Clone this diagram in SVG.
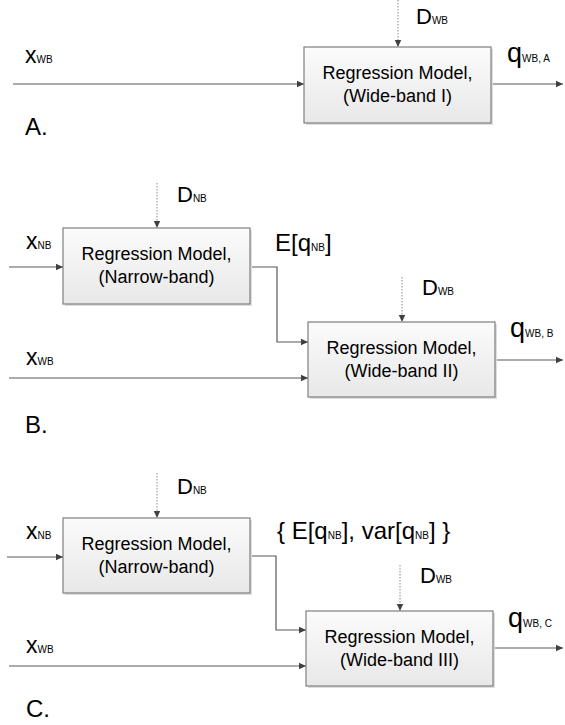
<svg xmlns="http://www.w3.org/2000/svg" width="565" height="725" viewBox="0 0 565 725">
<style>
text{font-family:"Liberation Sans",Arial,sans-serif;fill:#000}
.bt{font-size:18px;text-anchor:middle}
.lb{font-size:23px}
.sub{font-size:10px}
.big{font-size:24px}
.q{font-size:27px}
.d{font-size:22px}
.ln{fill:none;stroke:#595959;stroke-width:1.2}
.dot{fill:none;stroke:#8c8c8c;stroke-width:1;stroke-dasharray:1.5 1.5}
.box{fill:url(#g);stroke:#7f7f7f;stroke-width:1.2}
.sh{fill:#dedede}
</style>
<defs>
<linearGradient id="g" x1="0" y1="0" x2="0" y2="1">
<stop offset="0" stop-color="#fbfbfb"/>
<stop offset="1" stop-color="#e8e8e8"/>
</linearGradient>
<marker id="ar" markerUnits="userSpaceOnUse" markerWidth="8" markerHeight="8" refX="7" refY="4" orient="auto">
<path d="M0,0.8 L7,4 L0,7.2 Z" fill="#404040"/>
</marker>
</defs>

<g id="connectors">
<path class="ln" d="M13,84 H304" marker-end="url(#ar)"/>
<path class="ln" d="M491,84 H563" marker-end="url(#ar)"/>
<path class="dot" d="M398,0 V47" marker-end="url(#ar)"/>
<path class="ln" d="M9,267 H63" marker-end="url(#ar)"/>
<path class="dot" d="M157,183 V228" marker-end="url(#ar)"/>
<path class="ln" d="M250,267 H277 V342 H308" marker-end="url(#ar)"/>
<path class="ln" d="M9,378 H308" marker-end="url(#ar)"/>
<path class="dot" d="M402,277 V322" marker-end="url(#ar)"/>
<path class="ln" d="M495,360 H563" marker-end="url(#ar)"/>
<path class="ln" d="M7,557 H63" marker-end="url(#ar)"/>
<path class="dot" d="M157,473 V518" marker-end="url(#ar)"/>
<path class="ln" d="M250,556 H276 V630 H306" marker-end="url(#ar)"/>
<path class="ln" d="M9,666 H306" marker-end="url(#ar)"/>
<path class="dot" d="M400,565 V611" marker-end="url(#ar)"/>
<path class="ln" d="M493,648 H563" marker-end="url(#ar)"/>
</g>

<g id="boxA">
<rect class="sh" x="306" y="49" width="187" height="76"/>
<rect class="box" x="304" y="47" width="187" height="76"/>
<text class="bt" x="397.5" y="79">Regression Model,</text>
<text class="bt" x="397.5" y="102">(Wide-band I)</text>
</g>
<g id="boxB-NB">
<rect class="sh" x="65" y="230" width="187" height="76"/>
<rect class="box" x="63" y="228" width="187" height="76"/>
<text class="bt" x="156.5" y="260">Regression Model,</text>
<text class="bt" x="156.5" y="283">(Narrow-band)</text>
</g>
<g id="boxB-WB">
<rect class="sh" x="310" y="324" width="187" height="75"/>
<rect class="box" x="308" y="322" width="187" height="75"/>
<text class="bt" x="401.5" y="354">Regression Model,</text>
<text class="bt" x="401.5" y="377">(Wide-band II)</text>
</g>
<g id="boxC-NB">
<rect class="sh" x="65" y="520" width="187" height="75"/>
<rect class="box" x="63" y="518" width="187" height="75"/>
<text class="bt" x="156.5" y="550">Regression Model,</text>
<text class="bt" x="156.5" y="573">(Narrow-band)</text>
</g>
<g id="boxC-WB">
<rect class="sh" x="308" y="613" width="187" height="75"/>
<rect class="box" x="306" y="611" width="187" height="75"/>
<text class="bt" x="399.5" y="643">Regression Model,</text>
<text class="bt" x="399.5" y="666">(Wide-band III)</text>
</g>

<g id="labels">
<text class="lb" x="25" y="63">x<tspan class="sub">WB</tspan></text>
<text class="d" x="416" y="24">D<tspan class="sub">WB</tspan></text>
<text class="q" x="507" y="62">q<tspan class="sub">WB, A</tspan></text>
<text class="big" x="25" y="135">A.</text>

<text class="lb" x="26" y="249">x<tspan class="sub">NB</tspan></text>
<text class="d" x="177" y="202">D<tspan class="sub">NB</tspan></text>
<text class="big" x="275" y="251">E[q<tspan class="sub">NB</tspan>]</text>
<text class="d" x="422" y="295">D<tspan class="sub">WB</tspan></text>
<text class="q" x="510" y="337">q<tspan class="sub">WB, B</tspan></text>
<text class="lb" x="26" y="365">x<tspan class="sub">WB</tspan></text>
<text class="big" x="25" y="433">B.</text>

<text class="lb" x="26" y="539">x<tspan class="sub">NB</tspan></text>
<text class="d" x="177" y="494">D<tspan class="sub">NB</tspan></text>
<text class="big" x="277" y="539">{ E[q<tspan class="sub">NB</tspan>], var[q<tspan class="sub">NB</tspan>] }</text>
<text class="d" x="420" y="583">D<tspan class="sub">WB</tspan></text>
<text class="q" x="508" y="627">q<tspan class="sub">WB, C</tspan></text>
<text class="lb" x="26" y="653">x<tspan class="sub">WB</tspan></text>
<text class="big" x="26" y="717">C.</text>
</g>
</svg>
